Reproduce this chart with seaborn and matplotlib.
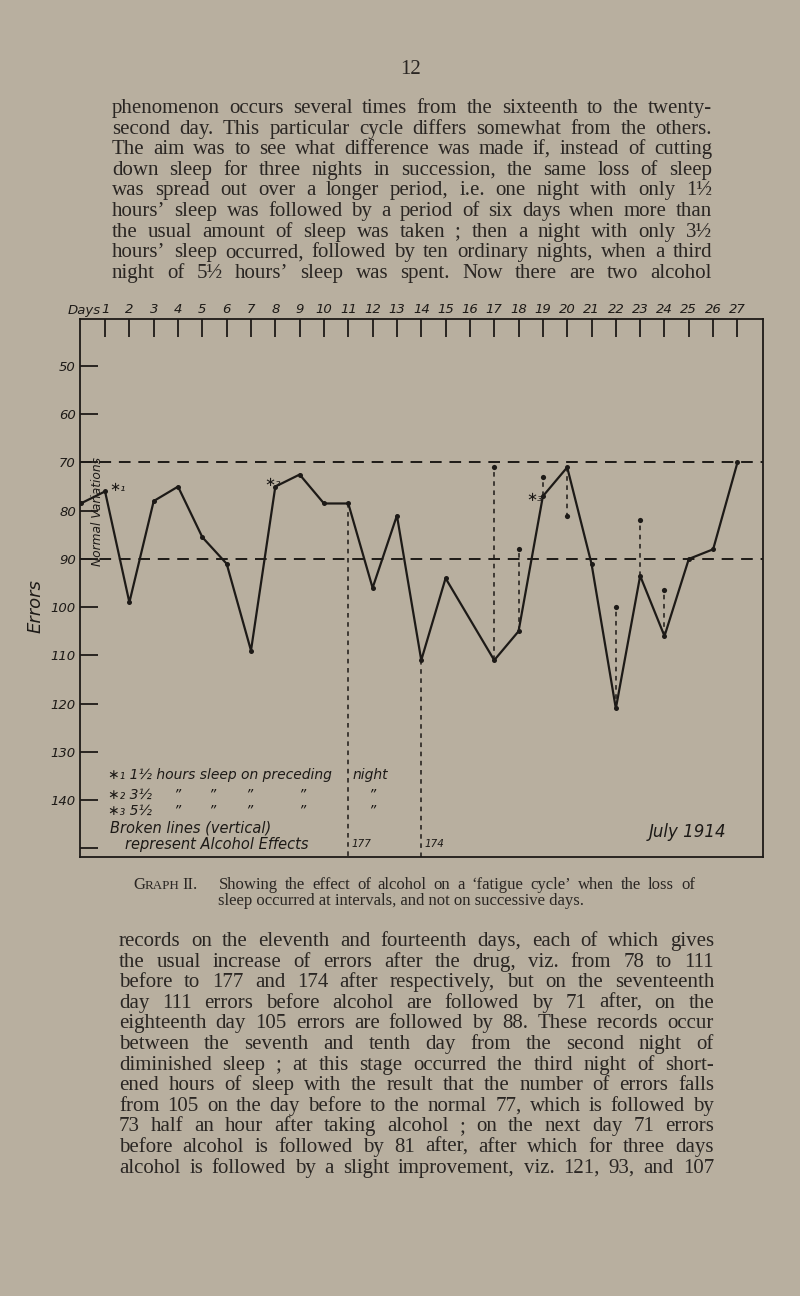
import matplotlib
matplotlib.use("Agg")
import matplotlib.pyplot as plt
import matplotlib.transforms as mtransforms
import seaborn as sns
import pandas as pd

# ---------------- data ----------------
days = [0, 1, 2, 3, 4, 5, 6, 7, 8, 9, 10, 11, 12, 13, 14, 15,
        17, 18, 19, 20, 21, 22, 23, 24, 25, 26, 27]
errors = [78.5, 76, 99, 78, 75, 85.5, 91, 109, 75, 72.5, 78.5, 78.5, 96, 81, 111, 94,
          111, 105, 77, 71, 91, 121, 93.5, 106, 90, 88, 70]
alcohol_days = [11, 14, 17, 18, 19, 20, 22, 23, 24]
alcohol_after = [177, 174, 71, 88, 73, 81, 100, 82, 96.5]
normal_band = [70, 90]
x_ticks = list(range(1, 28))
y_ticks = list(range(50, 151, 10))
y_tick_labels = [str(v) for v in range(50, 141, 10)] + [""]
sleep_notes = [(1, "∗₁"), (8, "∗₂"), (19, "∗₃")]

top_lines = [
    "phenomenon occurs several times from the sixteenth to the twenty-",
    "second day.  This particular cycle differs somewhat from the others.",
    "The aim was to see what difference was made if, instead of cutting",
    "down sleep for three nights in succession, the same loss of sleep",
    "was spread out over a longer period, i.e. one night with only 1½",
    "hours’ sleep was followed by a period of six days when more than",
    "the usual amount of sleep was taken ; then a night with only 3½",
    "hours’ sleep occurred, followed by ten ordinary nights, when a third",
    "night of 5½ hours’ sleep was spent.  Now there are two alcohol",
]
bottom_lines = [
    "records on the eleventh and fourteenth days, each of which gives",
    "the usual increase of errors after the drug, viz. from 78 to 111",
    "before to 177 and 174 after respectively, but on the seventeenth",
    "day 111 errors before alcohol are followed by 71 after, on the",
    "eighteenth day 105 errors are followed by 88.  These records occur",
    "between the seventh and tenth day from the second night of",
    "diminished sleep ; at this stage occurred the third night of short-",
    "ened hours of sleep with the result that the number of errors falls",
    "from 105 on the day before to the normal 77, which is followed by",
    "73 half an hour after taking alcohol ; on the next day 71 errors",
    "before alcohol is followed by 81 after, after which for three days",
    "alcohol is followed by a slight improvement, viz. 121, 93, and 107",
]

# ---------------- styling ----------------
paper = "#b8af9f"
ink = "#1d1a17"
text_ink = "#2a2623"

sns.set_theme(style="white")
plt.rcParams["font.family"] = ["DejaVu Sans"]

W, H = 800, 1296
fig = plt.figure(figsize=(W / 100, H / 100), dpi=100, facecolor=paper)
ax = fig.add_axes([80 / W, 1 - 857 / H, (763 - 80) / W, (857 - 319) / H])
ax.set_facecolor(paper)

df = pd.DataFrame({"day": days, "errors": errors})
sns.lineplot(data=df, x="day", y="errors", ax=ax, color=ink, linewidth=1.6,
             marker="o", markersize=3.6, markeredgewidth=0)

lookup = dict(zip(days, errors))
before = [lookup[d] for d in alcohol_days]
ax.vlines(alcohol_days, before, alcohol_after, colors=ink, linewidth=1.1,
          linestyles=(0, (3, 3)))
sns.scatterplot(x=alcohol_days, y=alcohol_after, ax=ax, color=ink, s=14,
                linewidth=0, zorder=4)

for v in normal_band:
    ax.axhline(v, color=ink, linewidth=1.4, linestyle=(0, (6, 4)))

ax.set_xlim(-0.03, 28.05)
ax.set_ylim(151.8, 40.25)
ax.set_xlabel("")
ax.set_ylabel("")
ax.set_xticks(x_ticks)
ax.set_xticklabels([str(v) for v in x_ticks])
ax.set_yticks(y_ticks)
ax.set_yticklabels(y_tick_labels)
ax.xaxis.tick_top()
ax.tick_params(axis="x", direction="in", length=13, width=1.3, pad=2,
               labelsize=9.5, colors=ink, top=True, bottom=False)
ax.tick_params(axis="y", direction="in", length=13, width=1.3, pad=3,
               labelsize=9.5, colors=ink, left=True, right=False)
for lab in ax.get_xticklabels() + ax.get_yticklabels():
    lab.set_style("italic")
for s in ax.spines.values():
    s.set_color(ink)
    s.set_linewidth(1.3)
    s.set_visible(True)

hand = dict(color=ink, style="italic")
trans_xa = mtransforms.blended_transform_factory(ax.transData, ax.transAxes)
ax.text(0.82, 1.004, "Days", transform=trans_xa, ha="right", va="bottom",
        fontsize=9.5, **hand)

# sleep annotations
offs = {1: (3, 3), 8: (-8, 3), 19: (-12, -1)}
for d, lab in sleep_notes:
    ax.annotate(lab, xy=(d, lookup[d]), xytext=offs[d], textcoords="offset points",
                fontsize=9.5, ha="left", va="center", **hand)

# labels for off-chart alcohol values
for d, v in zip(alcohol_days, alcohol_after):
    if v > 151:
        ax.text(d + 0.12, 0.015, str(v), transform=trans_xa, fontsize=7.5,
                ha="left", va="bottom", **hand)

def fx(x):
    return x / W

def fy(y):
    return 1 - y / H

fig.text(fx(36), fy(606), "Errors", rotation=90, fontsize=13, ha="center", va="center", **hand)
fig.text(fx(97.5), fy(511), "Normal Variations", rotation=90, fontsize=8.8,
         ha="center", va="center", **hand)

leg = 10
fig.text(fx(108), fy(775), "∗₁ 1½ hours sleep on preceding", fontsize=leg, va="center", **hand)
fig.text(fx(353), fy(775), "night", fontsize=leg, va="center", **hand)
for yy, lab in [(795, "∗₂ 3½"), (811, "∗₃ 5½")]:
    fig.text(fx(108), fy(yy), lab, fontsize=leg, va="center", **hand)
    for xx in [173, 208, 245, 298, 368]:
        fig.text(fx(xx), fy(yy), "”", fontsize=leg, va="center", **hand)
fig.text(fx(110), fy(828), "Broken lines (vertical)", fontsize=leg + 0.5, va="center", **hand)
fig.text(fx(125), fy(845), "represent Alcohol Effects", fontsize=leg + 0.5, va="center", **hand)
fig.text(fx(688), fy(832), "July 1914", fontsize=12, ha="center", va="center", **hand)

# ---------------- page text ----------------
renderer = fig.canvas.get_renderer()
serif = "Liberation Serif"

def justify(line, x0, x1, ybase, size):
    words = line.split()
    while True:
        ts = [fig.text(0, fy(ybase), w, fontsize=size, family=serif, color=text_ink,
                       va="baseline") for w in words]
        widths = [t.get_window_extent(renderer).width for t in ts]
        gap = (x1 - x0 - sum(widths)) / max(len(words) - 1, 1)
        if gap >= 3.5 or size < 8:
            break
        for t in ts:
            t.remove()
        size -= 0.25
    x = x0
    for t, w in zip(ts, widths):
        t.set_x(fx(x))
        x += w + gap

fig.text(fx(411), fy(74), "12", fontsize=15, family=serif, color=text_ink,
         ha="center", va="baseline")

body = 15
for i, line in enumerate(top_lines):
    justify(line, 112, 712, 113 + 20.6 * i, body)
for i, line in enumerate(bottom_lines):
    justify(line, 119, 714, 946 + 20.6 * i, body)

# caption with small caps
cap = 12
g = fig.text(fx(133), fy(889), "G", fontsize=cap, family=serif, color=text_ink, va="baseline")
gw = g.get_window_extent(renderer).width
r = fig.text(fx(133 + gw), fy(889), "RAPH", fontsize=cap * 0.78, family=serif,
             color=text_ink, va="baseline")
rw = r.get_window_extent(renderer).width
fig.text(fx(133 + gw + rw + 3), fy(889), "II.", fontsize=cap, family=serif,
         color=text_ink, va="baseline")
justify("Showing the effect of alcohol on a ‘fatigue cycle’ when the loss of",
        219, 695, 889, cap)
fig.text(fx(218), fy(905), "sleep occurred at intervals, and not on successive days.",
         fontsize=cap, family=serif, color=text_ink, va="baseline")

fig.savefig("out.png", dpi=100, facecolor=paper)
